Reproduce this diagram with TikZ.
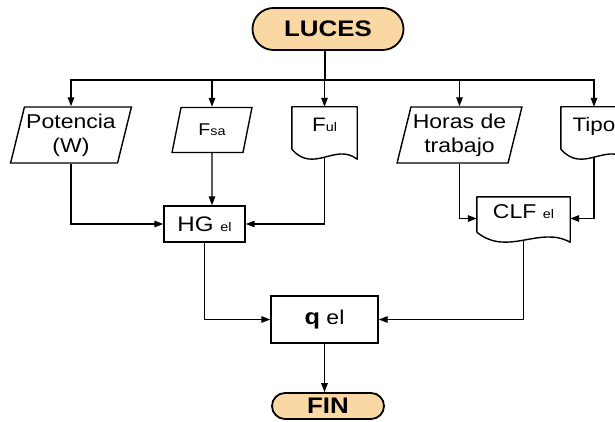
\documentclass[tikz,border=0pt]{standalone}
\usepackage{fontspec}
\setmainfont{Liberation Sans}[FakeStretch=1.15]
\usetikzlibrary{arrows.meta,shapes.geometric,shapes.misc,calc}

\definecolor{termfill}{RGB}{250,216,164}
\newcommand{\lowtxt}[1]{{\fontsize{12.5pt}{12pt}\selectfont #1}}

\begin{document}
\begin{tikzpicture}[x=1pt, y=-1pt,
  every node/.style = {align=center, font=\fontsize{19.5pt}{24pt}\selectfont},
  term/.style = {shape=rounded rectangle, draw, line width=1.8pt,
    fill=termfill, inner sep=1pt,
    font=\bfseries\fontsize{22.5pt}{24pt}\selectfont},
  inbox/.style = {shape=trapezium, trapezium left angle=73,
    trapezium right angle=107, trapezium stretches=true,
    draw, line width=1.4pt, inner sep=1pt},
  procbox/.style = {shape=rectangle, draw, line width=1.4pt},
  docbox/.style = {shape=rectangle, inner sep=1pt,
    text height=10pt, text depth=10pt,
    append after command={\pgfextra{
      \draw[line width=1.4pt, line join=round]
      ($(\tikzlastnode.south west)+(0pt,8pt)$) -- (\tikzlastnode.north west)
      -- (\tikzlastnode.north east) -- ($(\tikzlastnode.south east)+(0pt,-2pt)$)
      .. controls ($(\tikzlastnode.south west)!0.667!(\tikzlastnode.south east)+(0pt,15pt)$)
      and ($(\tikzlastnode.south west)!0.333!(\tikzlastnode.south east)+(0pt,-17pt)$)
      .. ($(\tikzlastnode.south west)+(0pt,8pt)$);}}},
  line/.style = {line width=1.4pt},
  arrow/.style = {line, -{Triangle[length=9pt,width=6.5pt]}}]
  \useasboundingbox (0,0) rectangle (615,422);

  % start and end
  \node[term, minimum width=153pt, minimum height=42pt] (luces) at (328,29) {LUCES};
  \node[term, minimum width=114pt, minimum height=26pt] (fin) at (328,406) {FIN};

  % inputs
  \coordinate (split) at (325,80);
  \node[inbox, minimum width=121pt, minimum height=56pt,
    font=\fontsize{20pt}{24pt}\selectfont] (pot) at (71,135) {Potencia\\(W)};
  \node[inbox, minimum width=80pt, minimum height=45pt,
    font=\fontsize{17pt}{18pt}\selectfont] (fsa) at (212,130) {F\lowtxt{sa}};
  \node[docbox, minimum width=65pt, minimum height=50pt] (ful) at (324.5,132) {F\lowtxt{ul}};
  \node[inbox, minimum width=125pt, minimum height=56pt,
    font=\fontsize{20pt}{24pt}\selectfont] (horas) at (459.5,135) {Horas de\\trabajo};
  \node[docbox, minimum width=66pt, minimum height=50pt] (tipo) at (594,132) {Tipo};

  % calculations
  \node[procbox, minimum width=81pt, minimum height=36pt,
    font=\fontsize{21pt}{24pt}\selectfont] (hg) at (204.5,224) {HG \lowtxt{el}};
  \node[docbox, minimum width=93pt, minimum height=43pt,
    font=\fontsize{20pt}{24pt}\selectfont] (clf) at (523.5,218.5) {CLF \lowtxt{el}};
  \node[procbox, minimum width=107pt, minimum height=47pt,
    font=\fontsize{20pt}{24pt}\selectfont] (q) at (324.5,319.5) {\textbf{\fontsize{22pt}{24pt}\selectfont q} el};

  % connectors
  \draw[line] (luces.south -| split) -- (split);
  \draw[arrow] (split) -| (pot);
  \draw[arrow] (split) -| (fsa);
  \draw[arrow] (split) -| (ful);
  \draw[arrow] (split) -| (horas);
  \draw[arrow] (split) -| (tipo);
  \draw[arrow] (pot) |- (hg);
  \draw[arrow] (fsa) -- (fsa |- hg.north);
  \draw[arrow] (ful) |- (hg);
  \draw[arrow] (horas) |- (clf);
  \draw[arrow] (tipo) |- (clf);
  \draw[arrow] (hg) |- (q);
  \draw[arrow] (clf) |- (q);
  \draw[arrow] (q.south) -- (q.south |- fin.north);
\end{tikzpicture}
\end{document}
